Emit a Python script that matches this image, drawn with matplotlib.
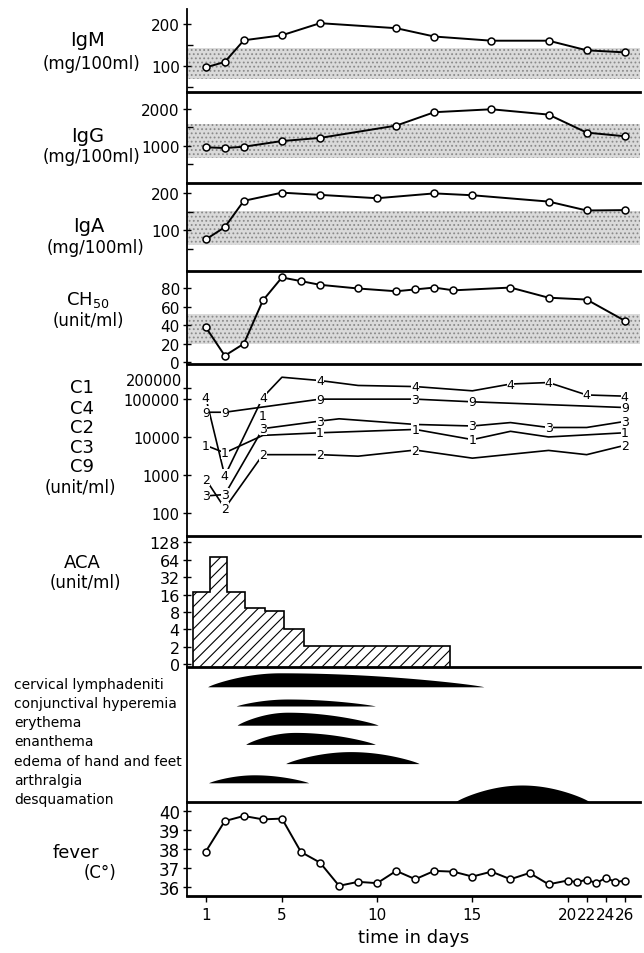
import numpy as np
import matplotlib
matplotlib.use("Agg")
import matplotlib.pyplot as plt
from matplotlib.ticker import FixedLocator, FixedFormatter, NullFormatter
from matplotlib.transforms import blended_transform_factory

plt.rcParams['font.family'] = ['DejaVu Sans']
plt.rcParams['hatch.linewidth'] = 0.8

# ---------------------------------------------------------------- data
igm_days = [1, 2, 3, 5, 7, 11, 13, 16, 19, 22, 26]
igm_vals = [96, 109, 161, 173, 202, 190, 170, 160, 160, 137, 132]
igm_band = (68, 142)

igg_days = [1, 2, 3, 5, 7, 11, 13, 16, 19, 22, 26]
igg_vals = [955, 935, 970, 1125, 1210, 1545, 1910, 1990, 1845, 1355, 1255]
igg_band = (670, 1590)

iga_days = [1, 2, 3, 5, 7, 10, 13, 15, 19, 22, 26]
iga_vals = [75, 108, 179, 201, 195, 186, 199, 194, 177, 153, 154]
iga_band = (59, 152)

ch50_days = [1, 2, 3, 4, 5, 6, 7, 9, 11, 12, 13, 14, 17, 19, 22, 26]
ch50_vals = [38, 7, 20, 67, 92, 88, 84, 80, 77, 79, 81, 78, 81, 70, 68, 45]
ch50_band = (20, 52)

# complement components, label drawn on the curve
c4_days = [1, 2, 4, 5, 7, 9, 12, 15, 17, 19, 22, 26]
c4_vals = [112000, 930, 112000, 380000, 310000, 230000, 215000, 166000, 251000, 275000, 129000, 120000]
c4_marked = [1, 2, 4, 7, 12, 17, 19, 22, 26]

c9_days = [1, 2, 7, 12, 15, 26]
c9_vals = [45000, 45000, 100000, 100000, 85000, 60000]
c9_marked = [1, 2, 7, 12, 15, 26]
c9_text = ['9', '9', '9', '3', '9', '9']

c3_days = [1, 2, 4, 7, 8, 12, 15, 17, 19, 22, 26]
c3_vals = [275, 300, 16600, 26300, 30200, 21400, 19500, 24000, 17800, 17800, 25700]
c3_marked = [1, 2, 4, 7, 15, 19, 26]

c1_days = [1, 2, 4, 7, 12, 15, 17, 19, 26]
c1_vals = [6000, 3800, 11000, 12900, 15800, 8500, 14100, 10000, 12900]
c1_marked = [1, 2, 7, 12, 15, 26]

c2_days = [1, 2, 4, 7, 9, 12, 15, 19, 22, 26]
c2_vals = [760, 130, 3400, 3400, 3100, 4500, 2750, 4400, 3400, 6000]
c2_marked = [1, 2, 4, 7, 12, 26]

c_ticks = [100, 1000, 10000, 100000, 200000]

aca_edges = [0.35, 1.2, 2.1, 3.05, 4.1, 5.1, 6.15, 13.85]
aca_vals = [18, 72, 18, 9.3, 8.4, 4.1, 2.1]
aca_ticks = [1, 2, 4, 8, 16, 32, 64, 128]
aca_labels = ['0', '2', '4', '8', '16', '32', '64', '128']

symptoms = ['cervical lymphadeniti', 'conjunctival hyperemia', 'erythema',
            'enanthema', 'edema of hand and feet', 'arthralgia', 'desquamation']
sym_start = [1.1, 2.6, 2.65, 3.1, 5.2, 1.15, 14.1]
sym_peak = [4.9, 5.3, 5.3, 5.7, 8.6, 3.55, 17.6]
sym_end = [15.6, 9.9, 10.05, 9.9, 12.2, 6.4, 22.3]
sym_size = [14, 7, 13, 12, 12, 8, 17]

fever_days = list(range(1, 27))
fever_vals = [37.85, 39.47, 39.74, 39.56, 39.6, 37.83, 37.27, 36.04, 36.25, 36.18,
              36.83, 36.39, 36.83, 36.79, 36.53, 36.79, 36.39, 36.72, 36.12, 36.32,
              36.23, 36.37, 36.18, 36.46, 36.25, 36.3]

day_ticks = [1, 5, 10, 15, 20, 22, 24, 26]


# after day 20 the time axis runs at half scale
def fwd(d):
    d = np.asarray(d, dtype=float)
    return np.where(d <= 20, d, 20 + (d - 20) / 2)


def inv(p):
    p = np.asarray(p, dtype=float)
    return np.where(p <= 20, p, 20 + (p - 20) * 2)


# ---------------------------------------------------------------- layout
W, H = 644, 954
L, R = 186.7, 640
fig = plt.figure(figsize=(W / 100, H / 100), dpi=100)


def px(x, y):
    return x / W, 1 - y / H


def panel(top, bot, share=None):
    ax = fig.add_axes([L / W, 1 - bot / H, (R - L) / W, (bot - top) / H], sharex=share)
    ax.set_xscale('function', functions=(fwd, inv))
    ax.set_xlim(0, 27.6)
    for s in ['top', 'right']:
        ax.spines[s].set_visible(False)
    ax.spines['left'].set_linewidth(1.3)
    ax.spines['bottom'].set_linewidth(2.0)
    ax.tick_params(axis='x', which='both', bottom=False, labelbottom=False)
    ax.tick_params(axis='y', which='major', direction='inout', length=6, width=1,
                   labelsize=11, pad=2)
    ax.tick_params(axis='y', which='minor', direction='in', length=4, width=1)
    ax.patch.set_alpha(0)
    return ax


ax_m = panel(10, 93)
ax_g = panel(93, 184, ax_m)
ax_a = panel(184, 272, ax_m)
ax_ch = panel(272, 365, ax_m)
ax_c = panel(365, 537, ax_m)
ax_aca = panel(537, 668, ax_m)
ax_s = panel(668, 803, ax_m)
ax_f = panel(803, 897, ax_m)

band_kw = dict(facecolor='#dadada', edgecolor='#8a8a8a', hatch='....', lw=0, zorder=0)
line_kw = dict(color='black', lw=1.4, marker='o', ms=5, mfc='white', mec='black', mew=1.1, zorder=3)


def set_yticks(ax, major, labels, minor=()):
    ax.yaxis.set_major_locator(FixedLocator(major))
    ax.yaxis.set_major_formatter(FixedFormatter(labels))
    ax.yaxis.set_minor_locator(FixedLocator(list(minor)))
    ax.yaxis.set_minor_formatter(NullFormatter())


# IgM
ax_m.axhspan(*igm_band, **band_kw)
ax_m.plot(igm_days, igm_vals, **line_kw)
ax_m.set_ylim(37, 236)
set_yticks(ax_m, [100, 200], ['100', '200'], [50, 150])

# IgG
ax_g.axhspan(*igg_band, **band_kw)
ax_g.plot(igg_days, igg_vals, **line_kw)
ax_g.set_ylim(-17, 2460)
set_yticks(ax_g, [1000, 2000], ['1000', '2000'], [500, 1500])

# IgA
ax_a.axhspan(*iga_band, **band_kw)
ax_a.plot(iga_days, iga_vals, **line_kw)
ax_a.set_ylim(-10, 227)
set_yticks(ax_a, [100, 200], ['100', '200'], [50, 150])

# CH50
ax_ch.axhspan(*ch50_band, **band_kw)
ax_ch.plot(ch50_days, ch50_vals, **line_kw)
ax_ch.set_ylim(-2, 99)
set_yticks(ax_ch, [0, 20, 40, 60, 80], ['0', '20', '40', '60', '80'])

# complement components
ax_c.set_yscale('log')
ax_c.set_ylim(24, 850000)
# the 200000 label sits a little higher than its tick in the original
set_yticks(ax_c, c_ticks, [str(v) for v in c_ticks[:-1]] + [''])
ax_c.yaxis.set_minor_locator(FixedLocator([]))
ax_c.tick_params(axis='y', labelsize=10.5)
fig.text(*px(L - 5, 381), str(c_ticks[-1]), ha='right', va='center', fontsize=10.5)
c_series = [
    (c4_days, c4_vals, c4_marked, ['4'] * len(c4_marked)),
    (c9_days, c9_vals, c9_marked, c9_text),
    (c3_days, c3_vals, c3_marked, ['3'] * len(c3_marked)),
    (c1_days, c1_vals, c1_marked, ['1'] * len(c1_marked)),
    (c2_days, c2_vals, c2_marked, ['2'] * len(c2_marked)),
]
for days, vals, marked, texts in c_series:
    ax_c.plot(days, vals, color='black', lw=1.2, zorder=2)
    for d, t in zip(marked, texts):
        v = vals[days.index(d)]
        ax_c.text(d, v, t, ha='center', va='center', fontsize=9, zorder=4,
                  bbox=dict(boxstyle='square,pad=0.0', fc='white', ec='none'))
ax_c.text(4, 36000, '1', ha='center', va='center', fontsize=9, zorder=4)

# ACA
ax_aca.set_yscale('log', base=2)
ax_aca.set_ylim(0.9, 164)
set_yticks(ax_aca, aca_ticks, aca_labels)
ax_aca.yaxis.set_minor_locator(FixedLocator([]))
ax_aca.tick_params(axis='y', labelsize=11.5, pad=2)
ax_aca.stairs(aca_vals, aca_edges, baseline=0.9, fill=True, facecolor='white',
              edgecolor='black', hatch='///', linewidth=1.2)

# symptoms
ax_s.set_ylim(0, 135)
ax_s.set_yticks([])
row_gap = 19.2
lab_tr = blended_transform_factory(fig.transFigure, ax_s.transData)
for i, name in enumerate(symptoms):
    base = (len(symptoms) - 1 - i) * row_gap
    a, p, b = fwd(sym_start[i]), fwd(sym_peak[i]), fwd(sym_end[i])
    x = np.linspace(sym_start[i], sym_end[i], 300)
    u = fwd(x)
    t = np.where(u <= p, (u - a) / (p - a), (b - u) / (b - p))
    top = base + sym_size[i] * np.sin(np.pi / 2 * np.clip(t, 0, 1)) ** 0.8
    ax_s.fill_between(x, base, top, color='black', lw=0)
    ax_s.text(14 / W, base + 3, name, transform=lab_tr, ha='left', va='center',
              fontsize=10)

# fever
ax_f.plot(fever_days, fever_vals, **line_kw)
ax_f.set_ylim(35.5, 40.48)
set_yticks(ax_f, [36, 37, 38, 39, 40], ['36', '37', '38', '39', '40'])
ax_f.tick_params(axis='y', labelsize=12)
ax_f.tick_params(axis='x', which='major', bottom=True, labelbottom=True,
                 direction='out', length=4, width=1, labelsize=11, pad=4)
ax_f.xaxis.set_major_locator(FixedLocator(day_ticks))
ax_f.xaxis.set_major_formatter(FixedFormatter([str(d) for d in day_ticks]))
ax_f.xaxis.set_minor_locator(FixedLocator([]))
ax_f.set_xlabel('time in days', fontsize=13, labelpad=4)

# panel titles on the left
titles = [
    ('IgM', 87, 40, 14), ('(mg/100ml)', 92, 64, 12),
    ('IgG', 88, 137, 14), ('(mg/100ml)', 91, 157, 12),
    ('IgA', 89, 226, 14), ('(mg/100ml)', 95, 248, 12),
    ('CH$_{50}$', 88, 300, 13), ('(unit/ml)', 88, 321, 12),
    ('C1', 82, 388, 13), ('C4', 82, 409, 13), ('C2', 82, 428, 13),
    ('C3', 82, 448, 13), ('C9', 82, 467, 13), ('(unit/ml)', 80, 488, 12),
    ('ACA', 82, 563, 13), ('(unit/ml)', 85, 583, 12),
    ('fever', 76, 853, 13), ('(C°)', 100, 873, 12),
]
for txt, x, y, fs in titles:
    fig.text(*px(x, y), txt, ha='center', va='center', fontsize=fs)

fig.savefig('out.png', dpi=100)
